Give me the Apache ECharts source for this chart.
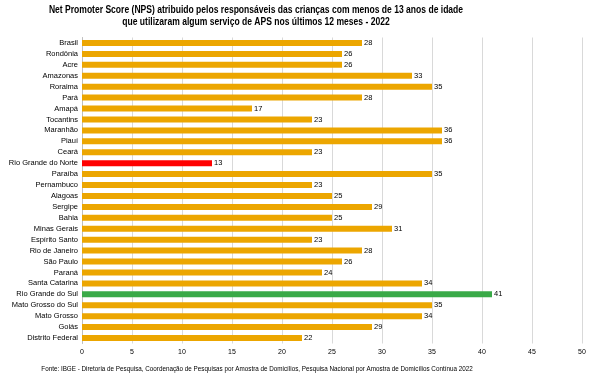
<!DOCTYPE html>
<html><head><meta charset="utf-8">
<script src="https://cdn.jsdelivr.net/npm/echarts@6/dist/echarts.min.js"></script>
<style>html,body{margin:0;padding:0;background:#fff}#c{width:603px;height:380px}</style>
</head><body><div id="c"></div>
<script>
const categories = ["Brasil","Rondônia","Acre","Amazonas","Roraima","Pará","Amapá","Tocantins","Maranhão","Piauí","Ceará","Rio Grande do Norte","Paraíba","Pernambuco","Alagoas","Sergipe","Bahia","Minas Gerais","Espírito Santo","Rio de Janeiro","São Paulo","Paraná","Santa Catarina","Rio Grande do Sul","Mato Grosso do Sul","Mato Grosso","Goiás","Distrito Federal"];
const values = [28,26,26,33,35,28,17,23,36,36,23,13,35,23,25,29,25,31,23,28,26,24,34,41,35,34,29,22];
const highlightLow = "Rio Grande do Norte";
const highlightHigh = "Rio Grande do Sul";
const titleText = "Net Promoter Score (NPS) atribuido pelos responsáveis das crianças com menos de 13 anos de idade\nque utilizaram algum serviço de APS nos últimos 12 meses - 2022";
const sourceText = "Fonte: IBGE - Diretoria de Pesquisa, Coordenação de Pesquisas por Amostra de Domicílios, Pesquisa Nacional por Amostra de Domicílios Contínua 2022";

const font = "'Liberation Sans', Arial, sans-serif";
const chart = echarts.init(document.getElementById('c'), null, {renderer:'canvas'});
chart.setOption({
  animation:false,
  backgroundColor:'#fff',
  graphic:[{
    type:'text', x:256, y:4, scaleX:0.777,
    style:{text:titleText, textAlign:'center', textVerticalAlign:'top', fontFamily:font, fontSize:11, fontWeight:'bold', fill:'#000', lineHeight:12}
  },{
    type:'text', x:257, y:365, scaleX:0.84,
    style:{text:sourceText, textAlign:'center', textVerticalAlign:'top', fontFamily:font, fontSize:7.5, fill:'#000'}
  }],
  grid:{left:82, right:21, top:37.5, bottom:36.5, containLabel:false},
  xAxis:{
    type:'value', min:0, max:50, interval:5,
    axisLine:{show:false}, axisTick:{show:false},
    splitLine:{show:true, lineStyle:{color:'#d9d9d9', width:1}},
    axisLabel:{fontFamily:font, fontSize:7, color:'#000', margin:5}
  },
  yAxis:{
    type:'category', data:categories, inverse:true,
    axisLine:{show:true, lineStyle:{color:'#bfbfbf'}}, axisTick:{show:false},
    axisLabel:{fontFamily:font, fontSize:7.5, color:'#000', margin:4}
  },
  series:[{
    type:'bar', barWidth:6,
    data:values.map((v,i)=>({value:v, itemStyle:{color: categories[i]===highlightLow ? '#ff0000' : categories[i]===highlightHigh ? '#3aaa48' : '#eca600'}})),
    label:{show:true, position:'right', distance:2, fontFamily:font, fontSize:7.5, color:'#000'}
  }]
});
</script></body></html>
